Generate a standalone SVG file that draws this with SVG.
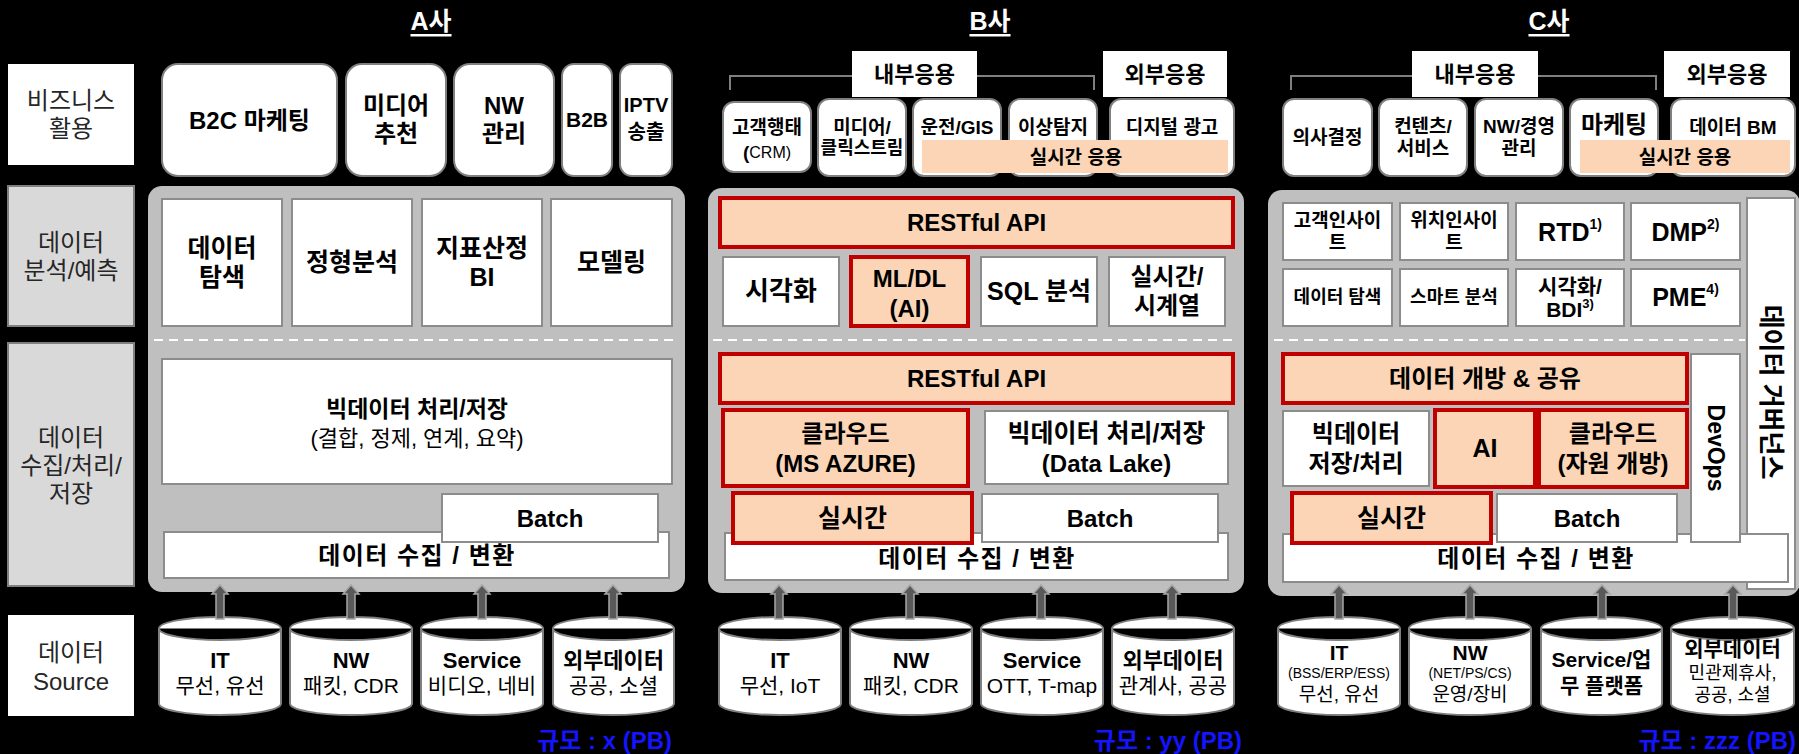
<svg xmlns="http://www.w3.org/2000/svg" width="1799" height="754" viewBox="0 0 1799 754">
<style>
text{font-family:"Liberation Sans","Noto Sans CJK KR",sans-serif;text-anchor:middle;dominant-baseline:central;fill:#000}
.b{font-weight:bold}
.lt{font-size:24px;fill:#262626}
.ttl{font-size:25px;font-weight:bold;fill:#fff;text-decoration:underline}
.lblg{fill:#d9d9d9;stroke:#7f7f7f;stroke-width:2}
.lblw{fill:#fff}
.panel{fill:#bfbfbf}
.box{fill:#fff;stroke:#8c8c8c;stroke-width:2}
.rbox{fill:#fff;stroke:#7f7f7f;stroke-width:2}
.hl{fill:#fbd5b5;stroke:#c00000;stroke-width:4}
.peach{fill:#fbd5b5}
.hdr{fill:#fff}
.dash{stroke:#fff;stroke-width:2;stroke-dasharray:9 6;fill:none}
.cyl{fill:#fff;stroke:#7f7f7f;stroke-width:2}
.arr{fill:#595959;stroke:#a6a6a6;stroke-width:1.5}
.brk{fill:none;stroke:#7f7f7f;stroke-width:2}
.scale{font-size:24px;font-weight:bold;fill:#1414ff;text-anchor:end}
.col{font-size:24px;font-weight:bold;letter-spacing:1.5px}
.f26{font-size:26px}.f25{font-size:25px}.f24{font-size:24px}.f23{font-size:23px}.f22{font-size:22px}.f21{font-size:21px}.f20{font-size:20px}.f19{font-size:19px}.f18{font-size:18px}.f14{font-size:14px}
</style>
<rect x="0" y="0" width="1799" height="754" fill="#000"/>

<!-- titles -->
<g id="titles">
<text class="ttl" x="431" y="21">A사</text>
<text class="ttl" x="990" y="21">B사</text>
<text class="ttl" x="1549" y="21">C사</text>
</g>

<!-- left labels -->
<g id="lbl-biz"><rect class="lblw" x="8" y="64" width="126" height="101"/><text class="lt" x="71" y="100">비즈니스</text><text class="lt" x="71" y="128">활용</text></g>
<g id="lbl-analysis"><rect class="lblg" x="8" y="186" width="126" height="140"/><text class="lt" x="71" y="242">데이터</text><text class="lt" x="71" y="270">분석/예측</text></g>
<g id="lbl-collect"><rect class="lblg" x="8" y="343" width="126" height="243"/><text class="lt" x="71" y="437">데이터</text><text class="lt" x="71" y="465">수집/처리/</text><text class="lt" x="71" y="493">저장</text></g>
<g id="lbl-source"><rect class="lblw" x="8" y="615" width="126" height="101"/><text class="lt" x="71" y="652">데이터</text><text class="lt" x="71" y="681">Source</text></g>

<!-- ================= A company ================= -->
<g id="a-panel"><rect class="panel" x="148" y="186" width="537" height="406" rx="14"/><line class="dash" x1="154" y1="340" x2="674" y2="340"/></g>
<g id="a-b2c"><rect class="rbox" x="162" y="64" width="175" height="112" rx="16"/><text class="b f24" x="249.5" y="120">B2C 마케팅</text></g>
<g id="a-media"><rect class="rbox" x="346" y="64" width="100" height="112" rx="16"/><text class="b f24" x="396" y="105">미디어</text><text class="b f24" x="396" y="133">추천</text></g>
<g id="a-nw"><rect class="rbox" x="454" y="64" width="100" height="112" rx="16"/><text class="b f24" x="504" y="105">NW</text><text class="b f24" x="504" y="133">관리</text></g>
<g id="a-b2b"><rect class="rbox" x="562" y="64" width="50" height="112" rx="12"/><text class="b f21" x="587" y="119">B2B</text></g>
<g id="a-iptv"><rect class="rbox" x="620" y="64" width="52" height="112" rx="12"/><text class="b f20" x="646" y="105">IPTV</text><text class="b f20" x="646" y="132">송출</text></g>

<g id="a-explore"><rect class="box" x="162" y="199" width="120" height="127"/><text class="b f25" x="222" y="248">데이터</text><text class="b f25" x="222" y="277">탐색</text></g>
<g id="a-formal"><rect class="box" x="292" y="199" width="120" height="127"/><text class="b f25" x="352" y="262">정형분석</text></g>
<g id="a-bi"><rect class="box" x="422" y="199" width="120" height="127"/><text class="b f25" x="482" y="248">지표산정</text><text class="b f25" x="482" y="277">BI</text></g>
<g id="a-model"><rect class="box" x="551" y="199" width="121" height="127"/><text class="b f25" x="611.5" y="262">모델링</text></g>

<g id="a-bigdata"><rect class="box" x="162" y="359" width="510" height="125"/><text class="b f23" x="417" y="409">빅데이터 처리/저장</text><text class="f22" x="417" y="438">(결합, 정제, 연계, 요약)</text></g>
<g id="a-collect"><rect class="box" x="164" y="532" width="505" height="46"/><text class="col" x="417" y="555">데이터 수집 / 변환</text></g>
<g id="a-batch"><rect class="box" x="442" y="494" width="216" height="48"/><text class="b f24" x="550" y="518">Batch</text></g>

<g id="a-src-it"><path class="cyl" d="M159,628.5 A61,11.5 0 0 1 281,628.5 V703.5 A61,11.5 0 0 1 159,703.5 Z M159,628.5 A61,11.5 0 0 0 281,628.5"/><text class="b f22" x="220" y="660">IT</text><text class="f21" x="220" y="685">무선, 유선</text></g>
<g id="a-src-nw"><path class="cyl" d="M290,628.5 A61,11.5 0 0 1 412,628.5 V703.5 A61,11.5 0 0 1 290,703.5 Z M290,628.5 A61,11.5 0 0 0 412,628.5"/><text class="b f22" x="351" y="660">NW</text><text class="f21" x="351" y="685">패킷, CDR</text></g>
<g id="a-src-svc"><path class="cyl" d="M421,628.5 A61,11.5 0 0 1 543,628.5 V703.5 A61,11.5 0 0 1 421,703.5 Z M421,628.5 A61,11.5 0 0 0 543,628.5"/><text class="b f22" x="482" y="660">Service</text><text class="f21" x="482" y="685">비디오, 네비</text></g>
<g id="a-src-ext"><path class="cyl" d="M553,628.5 A60.5,11.5 0 0 1 674,628.5 V703.5 A60.5,11.5 0 0 1 553,703.5 Z M553,628.5 A60.5,11.5 0 0 0 674,628.5"/><text class="b f22" x="613.5" y="660">외부데이터</text><text class="f21" x="613.5" y="685">공공, 소셜</text></g>
<text class="scale" x="672" y="740">규모 : x (PB)</text>

<!-- ================= B company ================= -->
<g id="b-panel"><rect class="panel" x="708" y="188" width="536" height="405" rx="14"/><line class="dash" x1="713" y1="340" x2="1233" y2="340"/></g>
<g id="b-crm"><rect class="rbox" x="723" y="102" width="88" height="70" rx="11"/><text class="b f19" x="767" y="127">고객행태</text><text x="767" y="152"><tspan class="b f19">(</tspan><tspan style="font-size:16px">CRM)</tspan></text></g>
<g id="b-click"><rect class="rbox" x="818" y="99" width="88" height="77" rx="11"/><text class="b f19" x="862" y="127">미디어/</text><text class="b f18" x="862" y="148">클릭스트림</text></g>
<g id="b-gis"><rect class="rbox" x="913" y="99" width="88" height="77" rx="11"/><text class="b f19" x="957" y="127">운전/GIS</text></g>
<g id="b-anom"><rect class="rbox" x="1009" y="99" width="88" height="77" rx="11"/><text class="b f19" x="1053" y="127">이상탐지</text></g>
<g id="b-ad"><rect class="rbox" x="1110" y="99" width="124" height="77" rx="11"/><text class="b f19" x="1172" y="127">디지털 광고</text></g>
<g id="b-rt-app"><rect class="peach" x="922" y="140" width="306" height="33"/><text class="b f19" x="1076" y="157">실시간 응용</text></g>
<g id="b-hdr-in"><rect class="hdr" x="852" y="51" width="125" height="46"/><text class="b f22" x="914.5" y="74">내부응용</text></g>
<g id="b-hdr-out"><rect class="hdr" x="1103" y="51" width="124" height="46"/><text class="b f22" x="1165" y="74">외부응용</text></g>

<g id="b-api1"><rect class="hl" x="720" y="198" width="513" height="49"/><text class="b f24" x="976.5" y="222.5">RESTful API</text></g>
<g id="b-vis"><rect class="box" x="723" y="257" width="116" height="69"/><text class="b f26" x="781" y="291">시각화</text></g>
<g id="b-ml"><rect class="hl" x="851" y="257" width="117" height="69"/><text class="b f24" x="909.5" y="278">ML/DL</text><text class="b f24" x="909.5" y="308">(AI)</text></g>
<g id="b-sql"><rect class="box" x="981" y="257" width="116" height="69"/><text class="b f25" x="1039" y="291">SQL 분석</text></g>
<g id="b-ts"><rect class="box" x="1109" y="257" width="116" height="69"/><text class="b f24" x="1167" y="276">실시간/</text><text class="b f24" x="1167" y="305">시계열</text></g>

<g id="b-api2"><rect class="hl" x="720" y="354" width="513" height="49"/><text class="b f24" x="976.5" y="378">RESTful API</text></g>
<g id="b-cloud"><rect class="hl" x="723" y="410" width="245" height="76"/><text class="b f24" x="845.5" y="433">클라우드</text><text class="b f24" x="845.5" y="463">(MS AZURE)</text></g>
<g id="b-lake"><rect class="box" x="985" y="411" width="243" height="73"/><text class="b f25" x="1106.5" y="433">빅데이터 처리/저장</text><text class="b f24" x="1106.5" y="463">(Data Lake)</text></g>
<g id="b-collect"><rect class="box" x="725" y="533" width="503" height="47"/><text class="col" x="977" y="558">데이터 수집 / 변환</text></g>
<g id="b-rt"><rect class="hl" x="733" y="493" width="239" height="50"/><text class="b f25" x="852.5" y="518">실시간</text></g>
<g id="b-batch"><rect class="box" x="982" y="494" width="236" height="48"/><text class="b f24" x="1100" y="518">Batch</text></g>

<g id="b-src-it"><path class="cyl" d="M719,628.5 A61,11.5 0 0 1 841,628.5 V703.5 A61,11.5 0 0 1 719,703.5 Z M719,628.5 A61,11.5 0 0 0 841,628.5"/><text class="b f22" x="780" y="660">IT</text><text class="f21" x="780" y="685">무선, IoT</text></g>
<g id="b-src-nw"><path class="cyl" d="M850,628.5 A61,11.5 0 0 1 972,628.5 V703.5 A61,11.5 0 0 1 850,703.5 Z M850,628.5 A61,11.5 0 0 0 972,628.5"/><text class="b f22" x="911" y="660">NW</text><text class="f21" x="911" y="685">패킷, CDR</text></g>
<g id="b-src-svc"><path class="cyl" d="M981,628.5 A61,11.5 0 0 1 1103,628.5 V703.5 A61,11.5 0 0 1 981,703.5 Z M981,628.5 A61,11.5 0 0 0 1103,628.5"/><text class="b f22" x="1042" y="660">Service</text><text class="f21" x="1042" y="685">OTT, T-map</text></g>
<g id="b-src-ext"><path class="cyl" d="M1112,628.5 A61,11.5 0 0 1 1234,628.5 V703.5 A61,11.5 0 0 1 1112,703.5 Z M1112,628.5 A61,11.5 0 0 0 1234,628.5"/><text class="b f22" x="1173" y="660">외부데이터</text><text class="f21" x="1173" y="685">관계사, 공공</text></g>
<text class="scale" x="1242" y="740">규모 : yy (PB)</text>

<!-- ================= C company ================= -->
<g id="c-panel"><rect class="panel" x="1268" y="190" width="532" height="406" rx="14"/><line class="dash" x1="1274" y1="340" x2="1745" y2="340"/></g>
<g id="c-decision"><rect class="rbox" x="1283" y="99" width="89" height="77" rx="11"/><text class="b f19" x="1327.5" y="137">의사결정</text></g>
<g id="c-content"><rect class="rbox" x="1379" y="99" width="88" height="77" rx="11"/><text class="b f19" x="1423" y="126">컨텐츠/</text><text class="b f19" x="1423" y="148">서비스</text></g>
<g id="c-nwmgmt"><rect class="rbox" x="1475" y="99" width="88" height="77" rx="11"/><text class="b f19" x="1519" y="126">NW/경영</text><text class="b f19" x="1519" y="148">관리</text></g>
<g id="c-mkt"><rect class="rbox" x="1570" y="99" width="88" height="77" rx="11"/><text class="b f24" x="1614" y="124">마케팅</text></g>
<g id="c-bm"><rect class="rbox" x="1671" y="99" width="124" height="77" rx="11"/><text class="b f19" x="1733" y="127">데이터 BM</text></g>
<g id="c-rt-app"><rect class="peach" x="1580" y="140" width="210" height="33"/><text class="b f19" x="1685" y="157">실시간 응용</text></g>
<g id="c-hdr-in"><rect class="hdr" x="1412" y="51" width="126" height="46"/><text class="b f22" x="1475" y="74">내부응용</text></g>
<g id="c-hdr-out"><rect class="hdr" x="1664" y="51" width="126" height="46"/><text class="b f22" x="1727" y="74">외부응용</text></g>

<g id="c-cust"><rect class="box" x="1283" y="203" width="109" height="57"/><text class="b f19" x="1337.5" y="220">고객인사이</text><text class="b f19" x="1337.5" y="242">트</text></g>
<g id="c-loc"><rect class="box" x="1400" y="203" width="108" height="57"/><text class="b f19" x="1454" y="220">위치인사이</text><text class="b f19" x="1454" y="242">트</text></g>
<g id="c-rtd"><rect class="box" x="1516" y="203" width="108" height="57"/><text class="b f25" x="1570" y="232">RTD<tspan style="font-size:14px" dy="-8">1)</tspan></text></g>
<g id="c-dmp"><rect class="box" x="1631" y="203" width="109" height="57"/><text class="b f25" x="1685.5" y="232">DMP<tspan style="font-size:14px" dy="-8">2)</tspan></text></g>
<g id="c-explore"><rect class="box" x="1283" y="269" width="109" height="57"/><text class="b f18" x="1337.5" y="297">데이터 탐색</text></g>
<g id="c-smart"><rect class="box" x="1400" y="269" width="108" height="57"/><text class="b f18" x="1454" y="297">스마트 분석</text></g>
<g id="c-bdi"><rect class="box" x="1516" y="269" width="108" height="57"/><text class="b f21" x="1570" y="286">시각화/</text><text class="b f21" x="1570" y="309">BDI<tspan style="font-size:13px" dy="-6">3)</tspan></text></g>
<g id="c-pme"><rect class="box" x="1631" y="269" width="109" height="57"/><text class="b f25" x="1685.5" y="297">PME<tspan style="font-size:14px" dy="-8">4)</tspan></text></g>

<g id="c-gov"><rect class="box" x="1747" y="198" width="48" height="391"/><text class="b f26" x="1771" y="392" transform="rotate(90 1771 392)">데이터 거버넌스</text></g>
<g id="c-open"><rect class="hl" x="1283" y="354" width="404" height="49"/><text class="b f24" x="1485" y="378">데이터 개방 &amp; 공유</text></g>
<g id="c-bigdata"><rect class="box" x="1283" y="411" width="146" height="75"/><text class="b f24" x="1356" y="433">빅데이터</text><text class="b f24" x="1356" y="463">저장/처리</text></g>
<g id="c-ai"><rect class="hl" x="1435" y="410" width="100" height="77"/><text class="b f25" x="1485" y="448">AI</text></g>
<g id="c-cloud"><rect class="hl" x="1539" y="410" width="148" height="77"/><text class="b f24" x="1613" y="433">클라우드</text><text class="b f24" x="1613" y="463">(자원 개방)</text></g>
<g id="c-collect"><rect class="box" x="1283" y="534" width="505" height="48"/><text class="col" x="1536" y="558">데이터 수집 / 변환</text></g>
<g id="c-devops"><rect class="box" x="1691" y="354" width="49" height="188"/><text class="b f23" x="1715.5" y="448" transform="rotate(90 1715.5 448)">DevOps</text></g>
<g id="c-rt"><rect class="hl" x="1292" y="493" width="199" height="50"/><text class="b f25" x="1391.5" y="518">실시간</text></g>
<g id="c-batch"><rect class="box" x="1497" y="494" width="180" height="48"/><text class="b f24" x="1587" y="518">Batch</text></g>

<g id="c-src-it"><path class="cyl" d="M1278,628.5 A61,11.5 0 0 1 1400,628.5 V703.5 A61,11.5 0 0 1 1278,703.5 Z M1278,628.5 A61,11.5 0 0 0 1400,628.5"/><text class="b f21" x="1339" y="652">IT</text><text class="f14" x="1339" y="673">(BSS/ERP/ESS)</text><text class="f19" x="1339" y="694">무선, 유선</text></g>
<g id="c-src-nw"><path class="cyl" d="M1409,628.5 A61,11.5 0 0 1 1531,628.5 V703.5 A61,11.5 0 0 1 1409,703.5 Z M1409,628.5 A61,11.5 0 0 0 1531,628.5"/><text class="b f21" x="1470" y="652">NW</text><text class="f14" x="1470" y="673">(NET/PS/CS)</text><text class="f19" x="1470" y="694">운영/장비</text></g>
<g id="c-src-svc"><path class="cyl" d="M1541,628.5 A60.5,11.5 0 0 1 1662,628.5 V703.5 A60.5,11.5 0 0 1 1541,703.5 Z M1541,628.5 A60.5,11.5 0 0 0 1662,628.5"/><text class="b f21" x="1601.5" y="659">Service/업</text><text class="b f21" x="1601.5" y="685">무 플랫폼</text></g>
<g id="c-src-ext"><path class="cyl" d="M1671,628.5 A61.5,11.5 0 0 1 1794,628.5 V703.5 A61.5,11.5 0 0 1 1671,703.5 Z M1671,628.5 A61.5,11.5 0 0 0 1794,628.5"/><text class="b f21" x="1732.5" y="648">외부데이터</text><text class="f18" x="1732.5" y="673">민관제휴사,</text><text class="f18" x="1732.5" y="695">공공, 소셜</text></g>
<text class="scale" x="1796" y="740">규모 : zzz (PB)</text>

<!-- connectors -->
<g id="connectors">
<path class="brk" d="M730,90 V76 H852 M977,76 H1094 V90"/>
<path class="brk" d="M1291,90 V76 H1412 M1538,76 H1656 V90"/>
<polygon class="arr" points="216,619 216,594 212,594 220,585 228,594 224,594 224,619"/>
<polygon class="arr" points="347,619 347,594 343,594 351,585 359,594 355,594 355,619"/>
<polygon class="arr" points="478,619 478,594 474,594 482,585 490,594 486,594 486,619"/>
<polygon class="arr" points="609,619 609,594 605,594 613,585 621,594 617,594 617,619"/>
<polygon class="arr" points="775,619 775,594 771,594 779,585 787,594 783,594 783,619"/>
<polygon class="arr" points="906,619 906,594 902,594 910,585 918,594 914,594 914,619"/>
<polygon class="arr" points="1037,619 1037,594 1033,594 1041,585 1049,594 1045,594 1045,619"/>
<polygon class="arr" points="1168,619 1168,594 1164,594 1172,585 1180,594 1176,594 1176,619"/>
<polygon class="arr" points="1335,619 1335,594 1331,594 1339,585 1347,594 1343,594 1343,619"/>
<polygon class="arr" points="1466,619 1466,594 1462,594 1470,585 1478,594 1474,594 1474,619"/>
<polygon class="arr" points="1598,619 1598,594 1594,594 1602,585 1610,594 1606,594 1606,619"/>
<polygon class="arr" points="1729,619 1729,594 1725,594 1733,585 1741,594 1737,594 1737,619"/>
</g>
</svg>
